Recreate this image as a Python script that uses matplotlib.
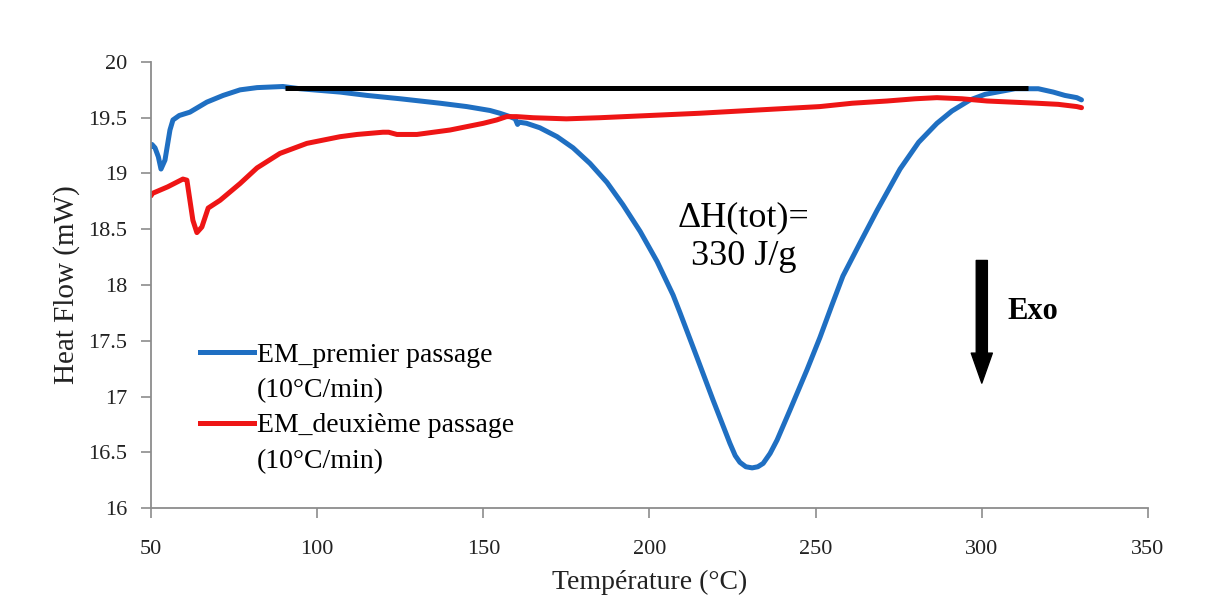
import matplotlib
matplotlib.use("Agg")
import matplotlib.pyplot as plt
from matplotlib.lines import Line2D

plt.rcParams['font.family'] = ['Liberation Serif', 'DejaVu Serif']

# EM_premier passage (10°C/min)
t1 = [50.0, 50.3, 51.2, 52.2, 53.0, 54.2, 55.7, 56.6, 58.5, 61.7, 66.8, 71.7, 76.8, 81.9, 89.7,
      94.8, 106.9, 115, 125, 137, 145, 152, 155, 158, 159.6, 160.3, 160.8, 163, 167, 172.2,
      177, 182.1, 187.2, 192, 197.2, 202.3, 207.1, 209.2, 214.3, 219.1, 224.2, 225.8, 227.2, 229,
      230.9, 232.6, 234.2, 236.3, 238.4, 242.3, 247.4, 251.3, 254.9, 258.2, 263.4, 268.5,
      275.4, 281, 286.5, 291, 296.5, 301, 306.4, 310, 313.6, 317, 321.5, 325, 328.6, 330]
hf1 = [19.24, 19.26, 19.23, 19.15, 19.04, 19.12, 19.39, 19.48, 19.52, 19.55, 19.64, 19.70, 19.75,
       19.77, 19.78, 19.76, 19.73, 19.70, 19.67, 19.63, 19.60, 19.565, 19.54, 19.51, 19.49, 19.44,
       19.46, 19.45, 19.41, 19.33, 19.23, 19.09, 18.92, 18.72, 18.48, 18.21, 17.91, 17.75, 17.35,
       16.97, 16.58, 16.47, 16.41, 16.37, 16.36, 16.37, 16.40, 16.49, 16.61, 16.88, 17.24, 17.53,
       17.82, 18.08, 18.38, 18.67, 19.04, 19.28, 19.45, 19.56, 19.66, 19.71, 19.74, 19.76, 19.76,
       19.76, 19.73, 19.70, 19.68, 19.66]

# EM_deuxième passage (10°C/min)
t2 = [50.0, 50.3, 55, 59.6, 60.8, 62.6, 63.8, 65.3, 67.2, 70.8, 76.8, 81.9, 88.8, 96.9, 106.9,
      112, 119.8, 121.5, 124, 130, 135, 140, 145, 150, 154, 157, 160, 165, 175, 185, 200, 215,
      233, 251.3, 261, 271.5, 280, 286.5, 294, 301.6, 309, 316.6, 323, 328.6, 330]
hf2 = [18.80, 18.82, 18.88, 18.95, 18.94, 18.58, 18.47, 18.52, 18.69, 18.76, 18.91, 19.05, 19.18,
       19.27, 19.33, 19.35, 19.37, 19.37, 19.35, 19.35, 19.37, 19.39, 19.42, 19.45, 19.48, 19.51,
       19.51, 19.50, 19.49, 19.50, 19.52, 19.54, 19.57, 19.60, 19.63, 19.65, 19.67, 19.68, 19.67,
       19.65, 19.64, 19.63, 19.62, 19.60, 19.59]

# baseline drawn on the chart
base_t = [90.3, 313.9]
base_hf = [19.77, 19.77]

blue = "#1f6fc2"
red = "#ee1515"
grey = "#8c8c8c"

fig = plt.figure(figsize=(12.14, 6.04), dpi=100)
ax = fig.add_axes([0.1244, 0.1589, 0.8212, 0.7385])

ax.plot(t1, hf1, color=blue, lw=3.6, solid_capstyle="round", solid_joinstyle="round")
ax.plot(t2, hf2, color=red, lw=3.6, solid_capstyle="round", solid_joinstyle="round")
ax.plot(base_t, base_hf, color="black", lw=3.6, solid_capstyle="butt")

ax.set_xlim(50, 350)
ax.set_ylim(16, 20)
ax.set_xticks([50, 100, 150, 200, 250, 300, 350])
ax.set_yticks([16, 16.5, 17, 17.5, 18, 18.5, 19, 19.5, 20])
ax.set_yticklabels(["16", "16.5", "17", "17.5", "18", "18.5", "19", "19.5", "20"])

for s in ["top", "right"]:
    ax.spines[s].set_visible(False)
for s in ["left", "bottom"]:
    ax.spines[s].set_color(grey)
    ax.spines[s].set_linewidth(1.3)
ax.tick_params(axis="both", colors=grey, width=1.2, length=7, labelsize=16, labelcolor="#222222")
ax.tick_params(axis="x", pad=16)
ax.tick_params(axis="y", pad=10)

ax.set_xlabel("Température (°C)", fontsize=20, color="#222222", labelpad=8)
ax.set_ylabel("Heat Flow (mW)", fontsize=21, color="#222222", labelpad=6)

handles = [Line2D([], [], color=blue, lw=3.6), Line2D([], [], color="none"),
           Line2D([], [], color=red, lw=3.6), Line2D([], [], color="none")]
labels = ["EM_premier passage", "(10°C/min)", "EM_deuxième passage", "(10°C/min)"]
ax.legend(handles, labels, loc="upper left", bbox_to_anchor=(0.049, 0.372), frameon=False,
          fontsize=20, handlelength=1.95, handletextpad=0.1, labelspacing=0.36,
          borderpad=0, borderaxespad=0)

ax.text(228.3, 18.43, "ΔH(tot)=\n330 J/g", fontsize=26, ha="center", va="center",
        multialignment="center", linespacing=1.25)

ax.annotate("", xy=(300, 17.12), xytext=(300, 18.22),
            arrowprops=dict(arrowstyle="simple,head_length=1.08,head_width=0.76,tail_width=0.4",
                            mutation_scale=20, color="black", shrinkA=0, shrinkB=0))
ax.text(307.6, 17.76, "Exo", fontsize=22, fontweight="bold", ha="left", va="center")

fig.savefig("out.png", dpi=100)
